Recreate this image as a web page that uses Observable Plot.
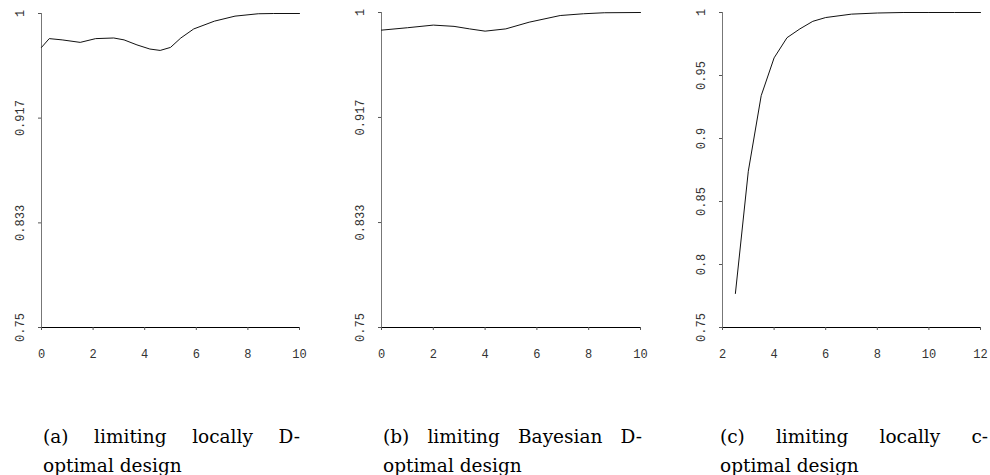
<!DOCTYPE html>
<html>
<head>
<meta charset="utf-8">
<script src="https://cdn.jsdelivr.net/npm/d3@7"></script>
<script src="https://cdn.jsdelivr.net/npm/@observablehq/plot@0.6"></script>
<style>
  html, body { margin: 0; padding: 0; background: #fff; overflow: hidden; }
  #root { position: relative; width: 990px; height: 475px; }
  .panel { position: absolute; top: 0; }
  .cap { position: absolute; font-family: "DejaVu Serif", "Liberation Serif", serif; font-size: 18.5px; line-height: 22px; color: #000; white-space: nowrap; }
  .l1 { text-align: justify; text-align-last: justify; white-space: normal; }
</style>
</head>
<body>
<div id="root"></div>
<script>
// ---- data ----
const xA = [0, 0.3, 0.8, 1.5, 2.1, 2.8, 3.2, 3.7, 4.2, 4.6, 5.0, 5.4, 5.9, 6.7, 7.5, 8.4, 9, 10];
const yA = [0.973, 0.980, 0.979, 0.977, 0.980, 0.9805, 0.979, 0.975, 0.9717, 0.9706, 0.973, 0.9805, 0.9877, 0.9939, 0.9979, 0.9998, 1, 1];

const xB = [0, 1, 2, 2.8, 3.4, 4, 4.8, 5.7, 6.9, 7.8, 8.6, 10];
const yB = [0.986, 0.9879, 0.990, 0.989, 0.987, 0.9852, 0.987, 0.9923, 0.9976, 0.999, 0.9998, 1];

const xC = [2.5, 3, 3.5, 4, 4.5, 5, 5.5, 6, 7, 8, 9, 10, 11, 12];
const yC = [0.777, 0.874, 0.934, 0.964, 0.980, 0.987, 0.993, 0.996, 0.9987, 0.9996, 1, 1, 1, 1];

const xTicksAB = [0, 2, 4, 6, 8, 10];
const xTicksC = [2, 4, 6, 8, 10, 12];
const yTicksAB = [0.75, 0.8333, 0.9167, 1];
const yLabelsAB = ["0.75", "0.833", "0.917", "1"];
const yTicksC = [0.75, 0.8, 0.85, 0.9, 0.95, 1];
const yLabelsC = ["0.75", "0.8", "0.85", "0.9", "0.95", "1"];

const captions = [
  ["(a) limiting locally D-", "optimal design"],
  ["(b) limiting Bayesian D-", "optimal design"],
  ["(c) limiting locally c-", "optimal design"]
];

// ---- drawing ----
function panel(xs, ys, xDomain, xTicks, yTicks, yLabels, opts) {
  const data = xs.map((x, i) => ({x, y: ys[i]}));
  const yFmt = v => yLabels[yTicks.indexOf(v)];
  return Plot.plot({
    width: opts.width,
    height: 370,
    marginLeft: 41,
    marginRight: opts.marginRight,
    marginTop: opts.marginTop,
    marginBottom: 43,
    style: {fontFamily: "Liberation Mono, DejaVu Sans Mono, monospace", fontSize: "12px", color: "#333", background: "#fff"},
    x: {domain: xDomain, axis: null},
    y: {domain: [0.75, 1], axis: null},
    marks: [
      Plot.ruleX([xDomain[0]], {y1: 0.75, y2: 1, stroke: "#777", strokeWidth: 1}),
      Plot.ruleY([0.75], {x1: xDomain[0], x2: xDomain[1], stroke: "#000", strokeWidth: 1}),
      Plot.axisX({ticks: xTicks, tickFormat: d => String(d), label: null, tickSize: 3, tickPadding: 19, stroke: "#555", fill: "#333"}),
      Plot.axisY({ticks: yTicks, tickFormat: yFmt, label: null, tickSize: 3, tickPadding: 18, tickRotate: -90, textAnchor: "middle", lineAnchor: "middle", stroke: "#555", fill: "#333"}),
      Plot.line(data, {x: "x", y: "y", stroke: "#111", strokeWidth: 1})
    ]
  });
}

const root = document.getElementById("root");
const specs = [
  {left: 0, xs: xA, ys: yA, dom: [0, 10], xt: xTicksAB, yt: yTicksAB, yl: yLabelsAB, width: 330, marginRight: 31, marginTop: 13},
  {left: 340, xs: xB, ys: yB, dom: [0, 10], xt: xTicksAB, yt: yTicksAB, yl: yLabelsAB, width: 330, marginRight: 30, marginTop: 12},
  {left: 681, xs: xC, ys: yC, dom: [2, 12], xt: xTicksC, yt: yTicksC, yl: yLabelsC, width: 309, marginRight: 10, marginTop: 12}
];
specs.forEach(s => {
  const el = panel(s.xs, s.ys, s.dom, s.xt, s.yt, s.yl, {width: s.width, marginRight: s.marginRight, marginTop: s.marginTop});
  const wrap = document.createElement("div");
  wrap.className = "panel";
  wrap.style.left = s.left + "px";
  wrap.appendChild(el);
  root.appendChild(wrap);
});

const capPos = [{left: 43, width: 257}, {left: 383, width: 259}, {left: 720, width: 268}];
captions.forEach((c, i) => {
  const l1 = document.createElement("div");
  l1.className = "cap l1";
  l1.style.left = capPos[i].left + "px";
  l1.style.width = capPos[i].width + "px";
  l1.style.top = "426px";
  l1.textContent = c[0];
  root.appendChild(l1);
  const l2 = document.createElement("div");
  l2.className = "cap";
  l2.style.left = capPos[i].left + "px";
  l2.style.top = "455px";
  l2.textContent = c[1];
  root.appendChild(l2);
});
</script>
</body>
</html>
